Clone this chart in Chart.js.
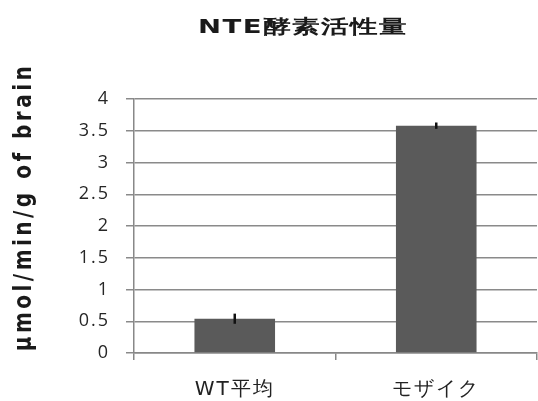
<!DOCTYPE html>
<html>
<head>
<meta charset="utf-8">
<script src="https://cdn.jsdelivr.net/npm/chart.js@4/dist/chart.umd.min.js"></script>
<style>
  body { margin: 0; background: #fff; }
  #wrap { width: 538px; height: 401px; }
</style>
</head>
<body>
<div id="wrap"><canvas id="nte-chart"></canvas></div>
<script>
// data
const categories = ['WT平均', 'モザイク'];
const activity = [0.54, 3.58];
const errors = [0.08, 0.05];
const yTicks = [0, 0.5, 1, 1.5, 2, 2.5, 3, 3.5, 4];

const chartTitle = 'NTE酵素活性量';
const yTitle = 'μmol/min/g of brain';

// the original looks stretched sideways, so text gets a little extra spacing
const spacingPlugin = {
    id: 'spacing',
    beforeDraw(chart) { chart.ctx.letterSpacing = '2px'; }
};

// titles drawn by hand so they sit where the original has them
const titlePlugin = {
    id: 'titles',
    afterDraw(chart) {
        const ctx = chart.ctx;
        ctx.save();
        ctx.fillStyle = '#1a1a1a';
        ctx.textAlign = 'center';
        ctx.textBaseline = 'middle';
        ctx.letterSpacing = '1px';
        ctx.translate(303, 28);
        ctx.scale(1.45, 1);
        ctx.font = 'bold 19px "DejaVu Sans"';
        ctx.fillText(chartTitle, 0, 0);
        ctx.restore();

        ctx.save();
        ctx.fillStyle = '#1a1a1a';
        ctx.textAlign = 'center';
        ctx.textBaseline = 'middle';
        ctx.translate(25, 207);
        ctx.rotate(-Math.PI / 2);
        ctx.scale(1, 1.2);
        ctx.font = 'bold 20px "DejaVu Sans"';
        ctx.letterSpacing = '3.5px';
        ctx.fillText(yTitle, 0, 0);
        ctx.restore();
    }
};

// error bars
const errorBarPlugin = {
    id: 'errorBars',
    afterDatasetsDraw(chart) {
        const ctx = chart.ctx;
        const y = chart.scales.y;
        const meta = chart.getDatasetMeta(0);
        ctx.save();
        ctx.strokeStyle = '#111';
        ctx.lineWidth = 2.5;
        meta.data.forEach((bar, i) => {
            const top = y.getPixelForValue(activity[i] + errors[i]);
            const bot = y.getPixelForValue(activity[i] - errors[i]);
            ctx.beginPath();
            ctx.moveTo(bar.x, top);
            ctx.lineTo(bar.x, bot);
            ctx.stroke();
        });
        ctx.restore();
    }
};

const data = {
    labels: categories,
    datasets: [{
        data: activity,
        backgroundColor: '#5a5a5a',
        borderWidth: 0,
        categoryPercentage: 1,
        barPercentage: 0.4
    }]
};

const config = {
    type: 'bar',
    data: data,
    options: {
        responsive: true,
        maintainAspectRatio: false,
        animation: false,
        layout: { padding: { top: 99, right: 1, left: 0, bottom: 0 } },
        plugins: {
            legend: { display: false },
            title: { display: false },
            tooltip: { enabled: false }
        },
        scales: {
            x: {
                grid: {
                    offset: true,
                    drawOnChartArea: false,
                    color: '#888',
                    lineWidth: 1.5,
                    tickLength: 7
                },
                border: { color: '#888', width: 1.5 },
                ticks: {
                    color: '#222',
                    padding: 18,
                    font: { family: 'DejaVu Sans', size: 20 }
                },
                afterFit(scale) { scale.height = 48; }
            },
            y: {
                min: 0,
                max: 4,
                afterBuildTicks(scale) { scale.ticks = yTicks.map(v => ({ value: v })); },
                grid: { color: '#8a8a8a', lineWidth: 1.5, tickLength: 8 },
                border: { color: '#888', width: 1.5 },
                ticks: {
                    color: '#262626',
                    padding: 16,
                    font: { family: 'Open Sans', size: 18 },
                    callback: v => String(v)
                },
                afterFit(scale) { scale.width = 134; }
            }
        }
    },
    plugins: [spacingPlugin, titlePlugin, errorBarPlugin]
};

const nteChart = new Chart(document.getElementById('nte-chart'), config);
</script>
</body>
</html>
